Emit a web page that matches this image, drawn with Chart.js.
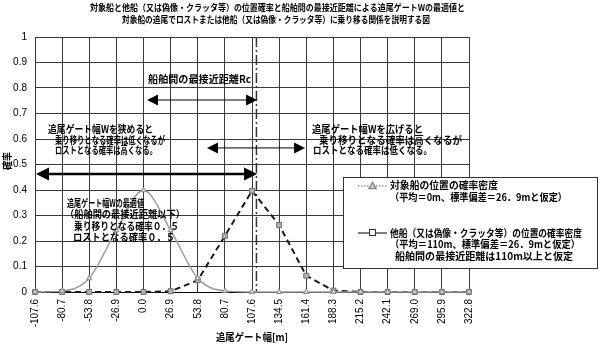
<!DOCTYPE html>
<html lang="ja">
<head>
<meta charset="utf-8">
<title>追尾ゲート幅と位置確率</title>
<script src="https://cdn.jsdelivr.net/npm/chart.js@4.4.1/dist/chart.umd.min.js"></script>
<style>
    html, body { margin: 0; padding: 0; background: #fff; }
    #wrap { width: 600px; height: 345px; position: relative; }
</style>
</head>
<body>
<div id="wrap"><canvas id="chart"></canvas></div>
<script>
// x categories: gate width [m]
const gateLabels = ["-107.6", "-80.7", "-53.8", "-26.9", "0.0", "26.9", "53.8", "80.7", "107.6",
    "134.5", "161.4", "188.3", "215.2", "242.1", "269.0", "295.9", "322.8"];

// target ship position density (mean 0m, sd 26.9m)
const targetShip = [0.0001, 0.0044, 0.054, 0.242, 0.399, 0.242, 0.054, 0.0044, 0.0001,
    0, 0, 0, 0, 0, 0, 0, 0];

// other ship (ghost / clutter) position density (mean 110m, sd 26.9m)
const otherShip = [0, 0, 0, 0, 0.0001, 0.003, 0.046, 0.220, 0.397,
    0.263, 0.064, 0.0058, 0.0002, 0, 0, 0, 0];

const yMin = 0;
const yMax = 1;
const yStep = 0.1;
const rcLine = 112; // closest approach distance marker [m]

const titleLines = [
    "対象船と他船（又は偽像・クラッタ等）の位置確率と船舶間の最接近距離による追尾ゲートWの最適値と",
    "対象船の追尾でロストまたは他船（又は偽像・クラッタ等）に乗り移る関係を説明する図"
];
const xTitle = "追尾ゲート幅[m]";
const yTitle = "確率";
const targetLegend = ["対象船の位置の確率密度", "（平均＝0m、標準偏差＝26．9mと仮定）"];
const otherLegend = ["他船（又は偽像・クラッタ等）の位置の確率密度", "（平均＝110m、標準偏差＝26．9mと仮定）",
    "船舶間の最接近距離は110m以上と仮定"];

const FONT = "'Noto Sans CJK JP', 'Noto Sans', sans-serif";
const NUM_FONT = "'Liberation Sans', Arial, sans-serif";

// notes placed in data coordinates (m, probability), width in px
const notes = [
    { text: "船舶間の最接近距離Rc", x: 4.5, y: 0.835, w: 103 },
    { text: "追尾ゲート幅Wを狭めると", x: -94.7, y: 0.639, w: 105 },
    { text: "乗り移りとなる確率は低くなるが", x: -87.8, y: 0.596, w: 110 },
    { text: "ロストとなる確率は高くなる。", x: -87.8, y: 0.557, w: 102 },
    { text: "追尾ゲート幅Wを広げると", x: 167.1, y: 0.639, w: 111 },
    { text: "乗り移りとなる確率は高くなるが", x: 174.0, y: 0.596, w: 143 },
    { text: "ロストとなる確率は低くなる。", x: 168.1, y: 0.557, w: 119 },
    { text: "追尾ゲート幅Wの最適値", x: -75.9, y: 0.349, w: 77 },
    { text: "（船舶間の最接近距離以下）", x: -77.9, y: 0.306, w: 120 },
    { text: "乗り移りとなる確率０．５", x: -68.9, y: 0.259, w: 105 },
    { text: "ロストとなる確率０．５", x: -69.9, y: 0.216, w: 102 }
];

const arrows = [
    { x1: 3.5, x2: 112.6, y: 0.753, width: 1, head: 11 },
    { x1: 63.0, x2: 160.2, y: 0.565, width: 1, head: 11 },
    { x1: -106.6, x2: 112.6, y: 0.463, width: 2.5, head: 13 }
];

document.addEventListener("DOMContentLoaded", function () {
    const gateStart = Number(gateLabels[0]);
    const gateStep = Number(gateLabels[1]) - gateStart;

    function px(chart, m) {
        return chart.scales.x.getPixelForValue((m - gateStart) / gateStep);
    }

    function py(chart, p) {
        return chart.scales.y.getPixelForValue(p);
    }

    // draw text stretched/squeezed to a given width
    function fitText(ctx, text, x, y, width) {
        const w = ctx.measureText(text).width;
        ctx.save();
        ctx.translate(x, y);
        ctx.scale(width / w, 1);
        ctx.fillText(text, 0, 0);
        ctx.restore();
    }

    function arrowHead(ctx, x, y, dir, size) {
        ctx.beginPath();
        ctx.moveTo(x, y);
        ctx.lineTo(x - dir * size, y - size / 2);
        ctx.lineTo(x - dir * size, y + size / 2);
        ctx.closePath();
        ctx.fill();
    }

    const notesPlugin = {
        id: "notes",
        beforeDatasetsDraw(chart) {
            const ctx = chart.ctx;
            const area = chart.chartArea;
            const x = px(chart, rcLine);
            ctx.save();
            ctx.strokeStyle = "#333";
            ctx.lineWidth = 1.5;
            ctx.setLineDash([10, 3, 2, 3]);
            ctx.beginPath();
            ctx.moveTo(x, area.top);
            ctx.lineTo(x, area.bottom);
            ctx.stroke();
            ctx.restore();
        },
        afterDatasetsDraw(chart) {
            const ctx = chart.ctx;
            ctx.save();
            ctx.fillStyle = "#000";
            ctx.strokeStyle = "#000";
            arrows.forEach(a => {
                const x1 = px(chart, a.x1);
                const x2 = px(chart, a.x2);
                const y = py(chart, a.y);
                ctx.lineWidth = a.width;
                ctx.beginPath();
                ctx.moveTo(x1 + a.head * 0.8, y);
                ctx.lineTo(x2 - a.head * 0.8, y);
                ctx.stroke();
                arrowHead(ctx, x2, y, 1, a.head);
                arrowHead(ctx, x1, y, -1, a.head);
            });

            ctx.font = "bold 10px " + FONT;
            ctx.textBaseline = "middle";
            ctx.textAlign = "left";
            notes.forEach(n => fitText(ctx, n.text, px(chart, n.x), py(chart, n.y), n.w));
            ctx.restore();
        },
        afterDraw(chart) {
            const ctx = chart.ctx;
            const area = chart.chartArea;
            ctx.save();
            ctx.fillStyle = "#000";
            ctx.textBaseline = "middle";
            ctx.textAlign = "left";

            // title
            ctx.font = "bold 9px " + FONT;
            fitText(ctx, titleLines[0], 90, 8, 375);
            fitText(ctx, titleLines[1], 122, 20, 308);

            // axis titles
            ctx.font = "bold 10px " + FONT;
            fitText(ctx, xTitle, (area.left + area.right) / 2 - 36, 337, 72);
            ctx.save();
            ctx.translate(7.5, 161);
            ctx.rotate(-Math.PI / 2);
            fitText(ctx, yTitle, -9, 0, 18);
            ctx.restore();

            // legend box
            const box = { x: 343, y: 177, w: 254, h: 91 };
            ctx.fillStyle = "#fff";
            ctx.fillRect(box.x, box.y, box.w, box.h);
            ctx.strokeStyle = "#333";
            ctx.lineWidth = 1;
            ctx.strokeRect(box.x + 0.5, box.y + 0.5, box.w, box.h);

            const ds = chart.data.datasets;
            // entry 1
            ctx.strokeStyle = ds[0].borderColor;
            ctx.lineWidth = 1.5;
            ctx.setLineDash([1.5, 1.5]);
            ctx.beginPath();
            ctx.moveTo(358, 186);
            ctx.lineTo(387, 186);
            ctx.stroke();
            ctx.setLineDash([]);
            ctx.fillStyle = ds[0].pointBackgroundColor;
            ctx.strokeStyle = ds[0].pointBorderColor;
            ctx.beginPath();
            ctx.moveTo(372.5, 182.5);
            ctx.lineTo(376, 188.5);
            ctx.lineTo(369, 188.5);
            ctx.closePath();
            ctx.fill();
            ctx.stroke();

            // entry 2
            ctx.strokeStyle = "#555";
            ctx.lineWidth = 1.5;
            ctx.beginPath();
            ctx.moveTo(358, 233);
            ctx.lineTo(387, 233);
            ctx.stroke();
            ctx.fillStyle = "#fff";
            ctx.strokeStyle = "#333";
            ctx.lineWidth = 1;
            ctx.fillRect(369, 229.5, 7, 7);
            ctx.strokeRect(369.5, 229.5, 6, 6);

            ctx.fillStyle = "#000";
            ctx.font = "bold 10px " + FONT;
            fitText(ctx, targetLegend[0], 390, 185, 108);
            fitText(ctx, targetLegend[1], 390, 197, 177);
            fitText(ctx, otherLegend[0], 390, 233, 192);
            fitText(ctx, otherLegend[1], 390, 244, 190);
            fitText(ctx, otherLegend[2], 395, 256, 178);
            ctx.restore();
        }
    };

    const ctx = document.getElementById("chart").getContext("2d");

    new Chart(ctx, {
        type: "line",
        data: {
            labels: gateLabels,
            datasets: [
                {
                    label: targetLegend[0],
                    data: targetShip,
                    borderColor: "#9a9a9a",
                    borderWidth: 1.5,
                    cubicInterpolationMode: "monotone",
                    pointStyle: "triangle",
                    pointRadius: 3,
                    pointBackgroundColor: "#d8d8d8",
                    pointBorderColor: "#8a8a8a",
                    pointBorderWidth: 1,
                    clip: false,
                },
                {
                    label: otherLegend[0],
                    data: otherShip,
                    borderColor: "#1a1a1a",
                    borderWidth: 2,
                    borderDash: [6, 4],
                    tension: 0,
                    pointStyle: "rect",
                    pointRadius: 3.5,
                    pointBackgroundColor: "#b0b0b0",
                    pointBorderColor: "#707070",
                    pointBorderWidth: 1,
                    clip: false,
                },
            ],
        },
        options: {
            responsive: true,
            maintainAspectRatio: false,
            animation: false,
            layout: { padding: { top: 37, right: 131, bottom: 0, left: 0 } },
            plugins: {
                legend: { display: false },
                tooltip: { enabled: false },
            },
            scales: {
                x: {
                    grid: { color: "#3a3a3a", lineWidth: 1, drawTicks: false },
                    border: { color: "#000", width: 1 },
                    ticks: {
                        autoSkip: false,
                        maxRotation: 90,
                        minRotation: 90,
                        padding: 7,
                        color: "#000",
                        font: { family: NUM_FONT, size: 10 },
                    },
                    afterFit: scale => { scale.height = 53; },
                },
                y: {
                    min: yMin,
                    max: yMax,
                    grid: { color: "#3a3a3a", lineWidth: 1, drawTicks: false },
                    border: { color: "#3a3a3a", width: 1 },
                    ticks: {
                        stepSize: yStep,
                        padding: 8,
                        color: "#000",
                        font: { family: NUM_FONT, size: 10 },
                        callback: v => String(Number(v.toFixed(1))),
                    },
                    afterFit: scale => { scale.width = 35; },
                },
            },
        },
        plugins: [notesPlugin],
    });
});
</script>
</body>
</html>
